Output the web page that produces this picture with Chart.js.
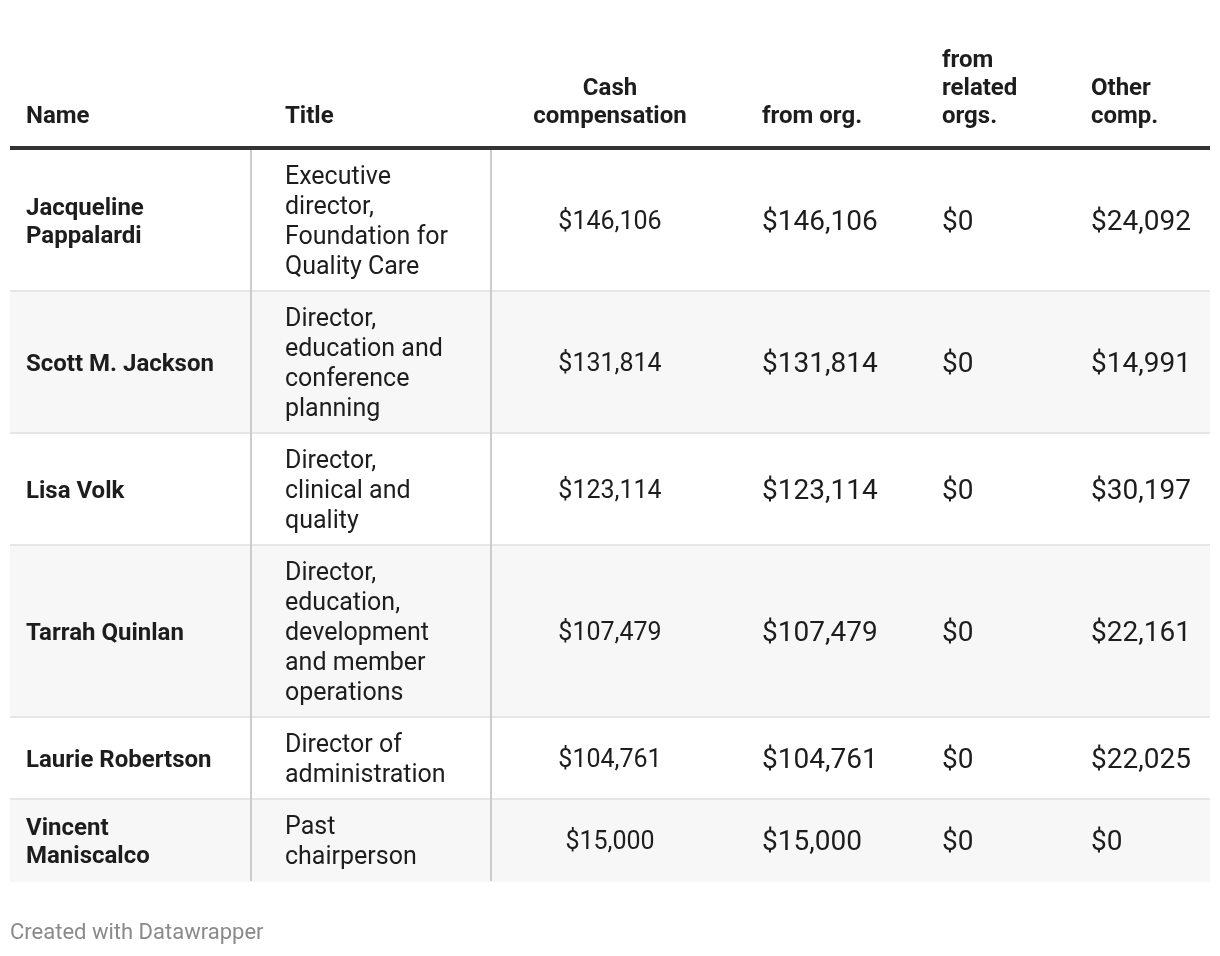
<!DOCTYPE html>
<html>
<head>
<meta charset="utf-8">
<script src="https://cdn.jsdelivr.net/npm/chart.js@4/dist/chart.umd.min.js"></script>
<style>
  html, body { margin: 0; padding: 0; background: #fff; }
  #wrap { width: 1220px; height: 956px; }
</style>
</head>
<body>
<div id="wrap"><canvas id="chart" width="1220" height="956"></canvas></div>
<script>
'use strict';

// table data
const headers = ['Name', 'Title', 'Cash\ncompensation', 'from org.', 'from\nrelated\norgs.', 'Other\ncomp.'];
const names = ['Jacqueline\nPappalardi', 'Scott M. Jackson', 'Lisa Volk', 'Tarrah Quinlan', 'Laurie Robertson', 'Vincent\nManiscalco'];
const titles = [
  'Executive\ndirector,\nFoundation for\nQuality Care',
  'Director,\neducation and\nconference\nplanning',
  'Director,\nclinical and\nquality',
  'Director,\neducation,\ndevelopment\nand member\noperations',
  'Director of\nadministration',
  'Past\nchairperson'
];
const cashComp = [146106, 131814, 123114, 107479, 104761, 15000];
const fromOrg = [146106, 131814, 123114, 107479, 104761, 15000];
const fromRelated = [0, 0, 0, 0, 0, 0];
const otherComp = [24092, 14991, 30197, 22161, 22025, 0];
const footer = 'Created with Datawrapper';

// layout (scale units == pixels)
const colX = [26, 285, 610, 762, 942, 1091];
const colAlign = ['left', 'left', 'center', 'left', 'left', 'left'];
const tableLeft = 10;
const tableRight = 1210;
const headerBottom = 117;
const tableTop = 150;
const lineH = 30;
const textShift = 2;

function money(v) {
  return '$' + v.toLocaleString('en-US');
}

const tablePlugin = {
  id: 'tablePlugin',
  afterDraw(chart) {
    const ctx = chart.ctx;
    const xs = chart.scales.x;
    const ys = chart.scales.y;
    const px = v => xs.getPixelForValue(v);
    const py = v => ys.getPixelForValue(v);

    ctx.save();
    ctx.textBaseline = 'middle';

    // header
    ctx.fillStyle = '#1d1d1d';
    ctx.font = 'bold 24px Roboto';
    headers.forEach((h, i) => {
      const lines = h.split('\n');
      ctx.textAlign = colAlign[i];
      lines.forEach((l, j) => {
        const y = headerBottom - (lines.length - 1 - j) * 28;
        ctx.fillText(l, px(colX[i]), py(y));
      });
    });

    // rows
    let top = tableTop;
    const rowTops = [];
    for (let r = 0; r < names.length; r++) {
      const n = Math.max(titles[r].split('\n').length, names[r].split('\n').length);
      const h = n * lineH + 22;
      rowTops.push([top, h]);
      if (r % 2 === 1) {
        ctx.fillStyle = '#f7f7f7';
        ctx.fillRect(px(tableLeft), py(top), px(tableRight) - px(tableLeft), py(top + h) - py(top));
      }
      top += h;
    }
    const tableBottom = top;

    // row separators
    ctx.strokeStyle = '#e6e6e6';
    ctx.lineWidth = 2;
    for (let r = 1; r < rowTops.length; r++) {
      const y = py(rowTops[r][0] - 1);
      ctx.beginPath();
      ctx.moveTo(px(tableLeft), y);
      ctx.lineTo(px(tableRight), y);
      ctx.stroke();
    }

    // column borders around Title
    ctx.strokeStyle = '#cccccc';
    [251, 491].forEach(x => {
      ctx.beginPath();
      ctx.moveTo(px(x), py(tableTop));
      ctx.lineTo(px(x), py(tableBottom - 1));
      ctx.stroke();
    });

    // thick header rule
    ctx.strokeStyle = '#333333';
    ctx.lineWidth = 4;
    ctx.beginPath();
    ctx.moveTo(px(tableLeft), py(tableTop - 2));
    ctx.lineTo(px(tableRight), py(tableTop - 2));
    ctx.stroke();

    // cells
    ctx.fillStyle = '#1d1d1d';
    rowTops.forEach(([t, h], r) => {
      const mid = t + h / 2 + textShift;
      const cells = [
        [names[r], 'bold 24px Roboto'],
        [titles[r], '25px Roboto'],
        [money(cashComp[r]), '25px Roboto'],
        [money(fromOrg[r]), '28px Roboto'],
        [money(fromRelated[r]), '28px Roboto'],
        [money(otherComp[r]), '28px Roboto']
      ];
      cells.forEach(([txt, font], i) => {
        const lines = txt.split('\n');
        const lh = i === 0 ? 28 : lineH;
        ctx.font = font;
        ctx.textAlign = colAlign[i];
        lines.forEach((l, j) => {
          const y = mid + (j - (lines.length - 1) / 2) * lh;
          ctx.fillText(l, px(colX[i]), py(y));
        });
      });
    });

    // footer
    ctx.fillStyle = '#8a8a8a';
    ctx.font = '22px Roboto';
    ctx.textAlign = 'left';
    ctx.fillText(footer, px(tableLeft), py(933));

    ctx.restore();
  }
};

const ctx = document.getElementById('chart').getContext('2d');
const tableChart = new Chart(ctx, {
  type: 'scatter',
  data: {
    datasets: [{
      label: 'cells',
      data: names.map((n, i) => ({ x: colX[0], y: tableTop + i })),
      pointRadius: 0
    }]
  },
  options: {
    responsive: false,
    animation: false,
    layout: { padding: 0 },
    plugins: {
      legend: { display: false },
      tooltip: { enabled: false }
    },
    scales: {
      x: { type: 'linear', min: 0, max: 1220, display: false },
      y: { type: 'linear', min: 0, max: 956, reverse: true, display: false }
    }
  },
  plugins: [tablePlugin]
});
</script>
</body>
</html>
